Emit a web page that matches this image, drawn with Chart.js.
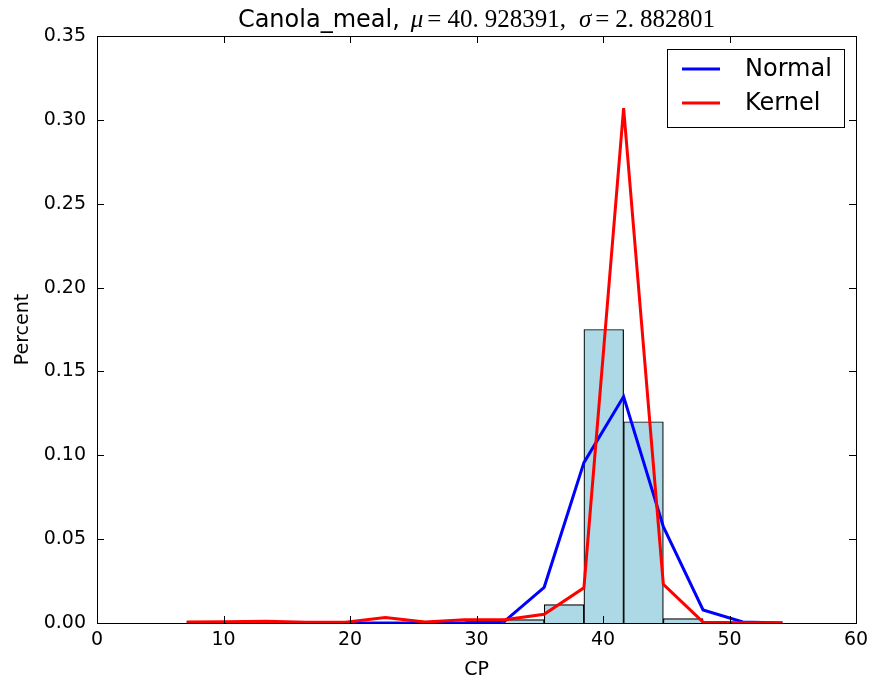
<!DOCTYPE html>
<html>
<head>
<meta charset="utf-8">
<script src="https://cdn.jsdelivr.net/npm/chart.js@4.4.0/dist/chart.umd.min.js"></script>
<style>
    html, body { margin: 0; padding: 0; background: #fff; }
    #wrap { width: 871px; height: 681px; }
</style>
</head>
<body>
<div id="wrap"><canvas id="myChart" width="871" height="681"></canvas></div>
<script>
// points where the density curves were evaluated (bin edges)
const xPoints = [7.09, 10.23, 13.37, 16.51, 19.65, 22.79, 25.93, 29.07, 32.21, 35.35, 38.49, 41.63, 44.77, 47.91, 51.05, 54.19];
const normalValues = [0, 0, 0, 0, 0, 0, 0, 0.0001, 0.001, 0.0213, 0.0956, 0.135, 0.0574, 0.0078, 0.0006, 0];
const kernelValues = [0.0006, 0.0007, 0.0011, 0.0005, 0.0005, 0.0032, 0.0006, 0.0019, 0.0019, 0.0052, 0.021, 0.307, 0.023, 0.0005, 0.0001, 0.0001];

// histogram bins (centres and heights)
const binCenters = [33.78, 36.92, 40.06, 43.20, 46.34];
const binValues = [0.002, 0.011, 0.175, 0.12, 0.0026];

const xTicks = [0, 10, 20, 30, 40, 50, 60];
const yTicks = [0, 0.05, 0.10, 0.15, 0.20, 0.25, 0.30, 0.35];

const SERIF = '25px "Liberation Serif"';
const SERIF_IT = 'italic 25px "Liberation Serif"';
// title pieces, with the small gaps mathtext leaves between them
const titleParts = [
    { text: 'Canola_meal,', font: '24px "DejaVu Sans"', gap: 0 },
    { text: 'μ', font: SERIF_IT, gap: 11 },
    { text: '=', font: SERIF, gap: 4 },
    { text: '40.', font: SERIF, gap: 6 },
    { text: '928391,', font: SERIF, gap: 6 },
    { text: 'σ', font: SERIF_IT, gap: 13 },
    { text: '=', font: SERIF, gap: 4 },
    { text: '2.', font: SERIF, gap: 6 },
    { text: '882801', font: SERIF, gap: 6 }
];

const toPoints = (xs, ys) => xs.map((x, i) => ({ x: x, y: ys[i] }));

// frame, inward ticks, title and legend in matplotlib classic style
const classicPlot = {
    id: 'classicPlot',
    afterDatasetsDraw(chart) {
        const { ctx, chartArea: a, scales } = chart;
        const tick = 7;
        ctx.save();
        ctx.strokeStyle = '#000';
        ctx.lineWidth = 1;
        ctx.beginPath();
        xTicks.forEach(v => {
            const px = Math.round(scales.x.getPixelForValue(v)) + 0.5;
            ctx.moveTo(px, a.bottom); ctx.lineTo(px, a.bottom - tick);
            ctx.moveTo(px, a.top); ctx.lineTo(px, a.top + tick);
        });
        yTicks.forEach(v => {
            const py = Math.round(scales.y.getPixelForValue(v)) + 0.5;
            ctx.moveTo(a.left, py); ctx.lineTo(a.left + tick, py);
            ctx.moveTo(a.right, py); ctx.lineTo(a.right - tick, py);
        });
        ctx.stroke();
        ctx.strokeRect(Math.round(a.left) + 0.5, Math.round(a.top) + 0.5,
            Math.round(a.right - a.left), Math.round(a.bottom - a.top));

        // title
        ctx.fillStyle = '#000';
        ctx.textBaseline = 'alphabetic';
        let total = 0;
        titleParts.forEach(p => { ctx.font = p.font; total += p.gap + ctx.measureText(p.text).width; });
        let tx = (a.left + a.right) / 2 - total / 2;
        titleParts.forEach(p => {
            ctx.font = p.font;
            tx += p.gap;
            ctx.fillText(p.text, tx, 27);
            tx += ctx.measureText(p.text).width;
        });

        // legend
        const lx = 667, ly = 49, lw = 177, lh = 78;
        ctx.fillStyle = '#fff';
        ctx.fillRect(lx, ly, lw, lh);
        ctx.strokeRect(lx + 0.5, ly + 0.5, lw, lh);
        ctx.font = '24px "DejaVu Sans"';
        ctx.textBaseline = 'middle';
        const items = [chart.data.datasets[0], chart.data.datasets[1]];
        items.forEach((ds, i) => {
            const y = ly + 20 + i * 34;
            ctx.strokeStyle = ds.borderColor;
            ctx.lineWidth = 3;
            ctx.beginPath();
            ctx.moveTo(682, y); ctx.lineTo(720, y);
            ctx.stroke();
            ctx.fillStyle = '#000';
            ctx.fillText(ds.label, 745, y + 1);
        });
        ctx.restore();
    }
};

const ctx = document.getElementById('myChart').getContext('2d');
const myChart = new Chart(ctx, {
    type: 'bar',
    data: {
        datasets: [{
            type: 'line',
            label: 'Normal',
            data: toPoints(xPoints, normalValues),
            borderColor: '#0000ff',
            borderWidth: 3,
            pointRadius: 0,
            tension: 0,
            order: 1
        }, {
            type: 'line',
            label: 'Kernel',
            data: toPoints(xPoints, kernelValues),
            borderColor: '#ff0000',
            borderWidth: 3,
            pointRadius: 0,
            tension: 0,
            order: 0
        }, {
            type: 'bar',
            label: 'Histogram',
            data: toPoints(binCenters, binValues),
            backgroundColor: '#add8e6',
            borderColor: '#000',
            borderWidth: 1.2,
            barPercentage: 1,
            categoryPercentage: 1,
            order: 2
        }]
    },
    options: {
        responsive: false,
        animation: false,
        layout: { padding: { top: 36, right: 15, bottom: 0, left: 0 } },
        plugins: {
            legend: { display: false },
            tooltip: { enabled: false }
        },
        scales: {
            x: {
                type: 'linear',
                offset: false,
                min: 0,
                max: 60,
                grid: { display: false, drawTicks: false, offset: false },
                border: { display: false },
                afterBuildTicks: s => { s.ticks = xTicks.map(v => ({ value: v })); },
                afterFit: s => { s.height = 58; s.paddingLeft = 0; s.paddingRight = 0; },
                ticks: {
                    color: '#000',
                    padding: 6,
                    font: { family: 'DejaVu Sans', size: 19 }
                },
                title: {
                    display: true,
                    text: 'CP',
                    color: '#000',
                    padding: { top: 0, bottom: 0 },
                    font: { family: 'DejaVu Sans', size: 19 }
                }
            },
            y: {
                min: 0,
                max: 0.35,
                grid: { display: false, drawTicks: false },
                border: { display: false },
                afterBuildTicks: s => { s.ticks = yTicks.map(v => ({ value: v })); },
                afterFit: s => { s.width = 97; s.paddingTop = 0; s.paddingBottom = 0; },
                ticks: {
                    color: '#000',
                    padding: 11,
                    font: { family: 'DejaVu Sans', size: 19 },
                    callback: v => v.toFixed(2)
                },
                title: {
                    display: true,
                    text: 'Percent',
                    color: '#000',
                    padding: { top: 12, bottom: 0 },
                    font: { family: 'DejaVu Sans', size: 19 }
                }
            }
        }
    },
    plugins: [classicPlot]
});
</script>
</body>
</html>
